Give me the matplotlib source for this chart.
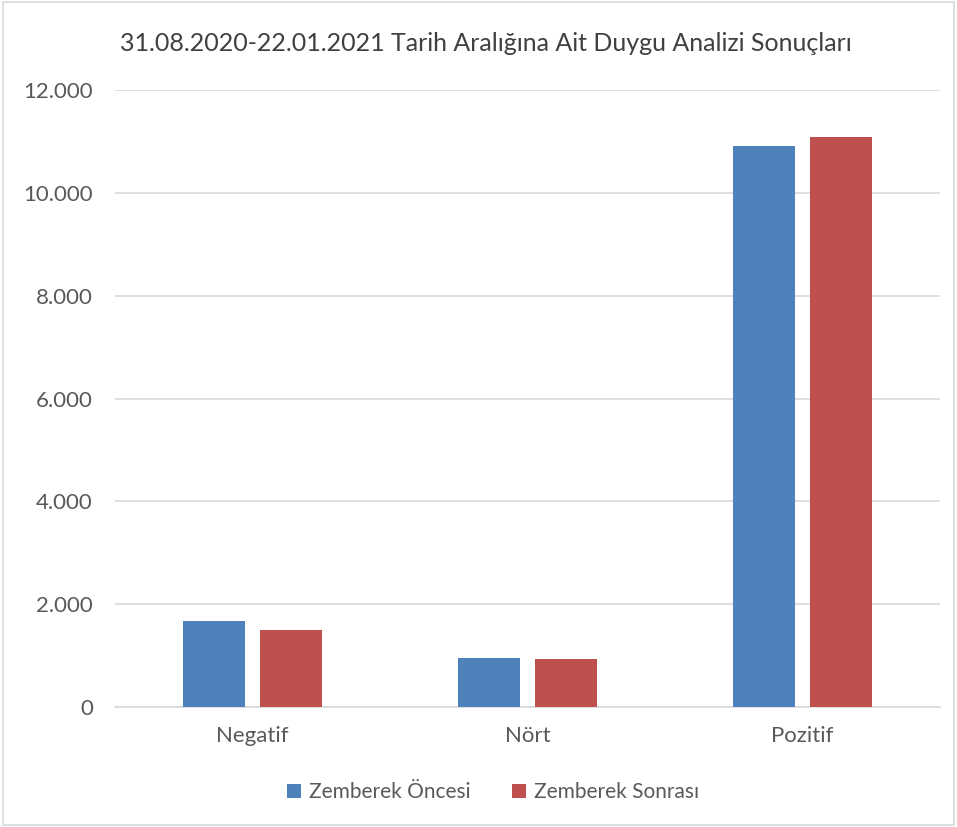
import matplotlib
matplotlib.use("Agg")
import matplotlib.pyplot as plt
import numpy as np
from matplotlib.ticker import FuncFormatter

categories = ["Negatif", "Nört", "Pozitif"]
oncesi = [1675, 962, 10913]
sonrasi = [1494, 943, 11094]
series_names = ["Zemberek Öncesi", "Zemberek Sonrası"]
title = "31.08.2020-22.01.2021 Tarih Aralığına Ait Duygu Analizi Sonuçları"

plt.rcParams['font.family'] = ['Lato', 'DejaVu Sans']

fig = plt.figure(figsize=(9.57, 8.27), dpi=100)
fig.patch.set_facecolor("white")
# figure border
fig.add_artist(plt.Rectangle((0.003, 0.003), 0.994, 0.994, transform=fig.transFigure,
                             fill=False, edgecolor="#D9D9D9", linewidth=1.2))

ax = fig.add_axes([0.1202, 0.1451, 0.862, 0.7455])
x = np.arange(len(categories))
w = 0.225
gap = 0.058
ax.bar(x - (w + gap) / 2, oncesi, width=w, color="#4F81BD", label=series_names[0], zorder=3)
ax.bar(x + (w + gap) / 2, sonrasi, width=w, color="#C0504D", label=series_names[1], zorder=3)

ax.set_xlim(-0.5, 2.5)
ax.set_ylim(0, 12000)
ax.set_yticks(range(0, 12001, 2000))
ax.yaxis.set_major_formatter(FuncFormatter(lambda v, p: "0" if v == 0 else f"{int(v):,}".replace(",", ".")))
ax.set_xticks(x)
ax.set_xticklabels(categories)
ax.grid(axis="y", color="#D9D9D9", linewidth=1.2, zorder=0)
for s in ["top", "right", "left"]:
    ax.spines[s].set_visible(False)
ax.spines["bottom"].set_color("#D9D9D9")
ax.spines["bottom"].set_linewidth(1.2)
ax.tick_params(axis="both", length=0, labelcolor="#595959", labelsize=16)
ax.tick_params(axis="y", pad=16)
ax.tick_params(axis="x", pad=14)

fig.text(0.508, 0.947, title, ha="center", va="center", fontsize=18, color="#404040")

leg = fig.legend(loc="center", bbox_to_anchor=(0.515, 0.042), ncol=2, frameon=False,
                 fontsize=15, handlelength=0.7, handleheight=0.7, columnspacing=2.0,
                 handletextpad=0.35)
for t in leg.get_texts():
    t.set_color("#595959")

fig.savefig("out.png", dpi=100)
